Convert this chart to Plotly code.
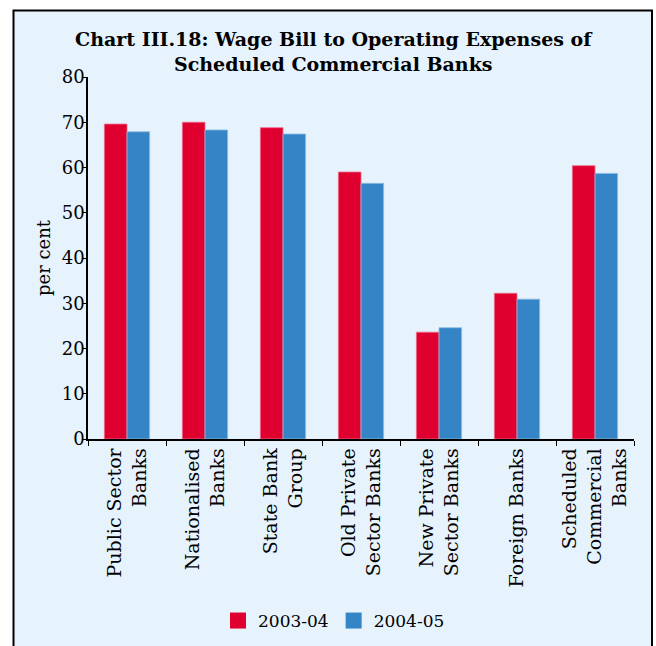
import plotly.graph_objects as go

categories = ["Public Sector<br>Banks", "Nationalised<br>Banks", "State Bank<br>Group",
              "Old Private<br>Sector Banks", "New Private<br>Sector Banks", "Foreign Banks",
              "Scheduled<br>Commercial<br>Banks"]
series_names = ["2003-04", "2004-05"]
values_2003_04 = [69.6, 70.0, 68.8, 59.0, 23.6, 32.2, 60.4]
values_2004_05 = [67.9, 68.3, 67.4, 56.5, 24.6, 30.9, 58.7]
y_ticks = [0, 10, 20, 30, 40, 50, 60, 70, 80]

FONT = "DejaVu Serif"
RED = "#E0002F"
BLUE = "#3585C6"

fig = go.Figure()
fig.add_trace(go.Bar(x=categories, y=values_2003_04, name=series_names[0], showlegend=False,
                     marker=dict(color=RED, line=dict(color="#EE6A85", width=0.8))))
fig.add_trace(go.Bar(x=categories, y=values_2004_05, name=series_names[1], showlegend=False,
                     marker=dict(color=BLUE, line=dict(color="#8DBCE3", width=0.8))))
# legend proxies with larger square swatches
for nm, col in zip(series_names, [RED, BLUE]):
    fig.add_trace(go.Scatter(x=[None], y=[None], mode="markers", name=nm,
                             marker=dict(symbol="square", size=16, color=col)))

L, R, T, B = 88, 22, 77, 207
W, H = 656, 646
pw = W - L - R
ph = H - T - B

def px_to_paper_x(px):
    return (px - L) / pw

def px_to_paper_y(py):
    return (H - B - py) / ph

fig.add_shape(type="rect", xref="paper", yref="paper", layer="below",
              x0=px_to_paper_x(13.5), x1=px_to_paper_x(652),
              y0=px_to_paper_y(660), y1=px_to_paper_y(10.5),
              fillcolor="#E6F2FC", line=dict(color="black", width=2))

fig.update_layout(
    width=W, height=H,
    margin=dict(l=L, r=R, t=T, b=B, autoexpand=False),
    paper_bgcolor="white",
    plot_bgcolor="rgba(0,0,0,0)",
    barmode="group",
    bargap=0.42,
    bargroupgap=0,
    font=dict(family=FONT, size=17, color="black"),
    title=dict(text="<b>Chart III.18: Wage Bill to Operating Expenses of<br>Scheduled Commercial Banks</b>",
               xref="container", yref="container", x=0.508, y=1 - 46 / H,
               xanchor="center", yanchor="middle",
               font=dict(family=FONT, size=19, color="black")),
    showlegend=True,
    legend=dict(orientation="h", xref="container", yref="container",
                x=334 / W, y=1 - 621 / H,
                xanchor="center", yanchor="middle",
                font=dict(family=FONT, size=17), bgcolor="rgba(0,0,0,0)",
                itemwidth=30, traceorder="normal"),
    xaxis=dict(showline=True, linecolor="black", linewidth=1.5,
               ticks="outside", tickson="boundaries", ticklen=5, tickcolor="black",
               tickangle=-90, automargin=False, showgrid=False,
               tickfont=dict(family=FONT, size=19)),
    yaxis=dict(range=[0, 80], tickvals=y_ticks, showline=True, linecolor="black", linewidth=1.5,
               ticks="outside", ticklen=4, tickcolor="black", showgrid=False, zeroline=False,
               ticklabelstandoff=-6,
               automargin=False, title=dict(text="per cent", standoff=6,
                                            font=dict(family=FONT, size=18)),
               tickfont=dict(family=FONT, size=18)),
)

fig.write_html("out.html")
